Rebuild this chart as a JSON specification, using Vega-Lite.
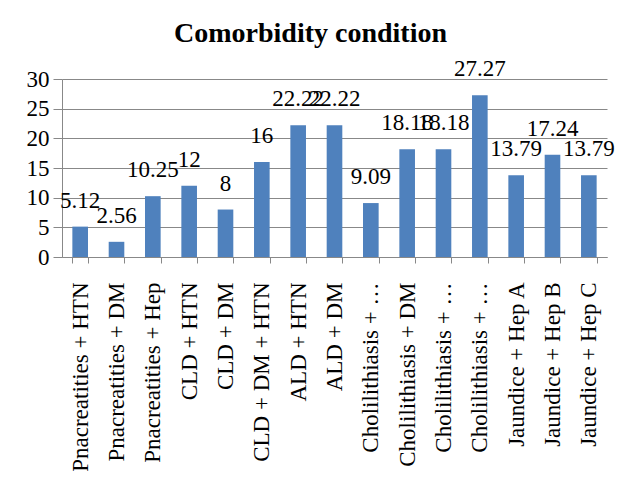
{
  "$schema": "https://vega.github.io/schema/vega-lite/v6.json",
  "width": 545,
  "height": 178,
  "autosize": {"type": "none"},
  "padding": {"left": 62, "top": 79, "right": 18, "bottom": 232},
  "background": "white",
  "title": {
    "text": "Comorbidity condition",
    "font": "'Liberation Serif', 'Times New Roman', serif",
    "fontSize": 28,
    "fontWeight": "bold",
    "color": "black",
    "anchor": "middle",
    "frame": "group",
    "dx": -24,
    "baseline": "alphabetic",
    "offset": -12
  },
  "data": {
    "values": [
      {"condition": "Pnacreatities + HTN", "value": 5.12},
      {"condition": "Pnacreatities + DM", "value": 2.56},
      {"condition": "Pnacreatities + Hep", "value": 10.25},
      {"condition": "CLD + HTN", "value": 12},
      {"condition": "CLD + DM", "value": 8},
      {"condition": "CLD + DM + HTN", "value": 16},
      {"condition": "ALD + HTN", "value": 22.22},
      {"condition": "ALD + DM", "value": 22.22},
      {"condition": "Cholilithiasis + HTN", "value": 9.09},
      {"condition": "Cholilithiasis + DM", "value": 18.18},
      {"condition": "Cholilithiasis + Hep", "value": 18.18},
      {"condition": "Cholilithiasis + CLD", "value": 27.27},
      {"condition": "Jaundice + Hep A", "value": 13.79},
      {"condition": "Jaundice + Hep B", "value": 17.24},
      {"condition": "Jaundice + Hep C", "value": 13.79}
    ]
  },
  "encoding": {
    "x": {
      "field": "condition",
      "type": "nominal",
      "sort": null,
      "scale": {"paddingInner": 0.57, "paddingOuter": 0.285},
      "axis": {
        "title": null,
        "labelAngle": -90,
        "labelAlign": "right",
        "labelBaseline": "middle",
        "labelFont": "'Liberation Serif', 'Times New Roman', serif",
        "labelFontSize": 23,
        "labelColor": "black",
        "labelPadding": 19,
        "labelLimit": 0,
        "labelExpr": "length(datum.label) > 19 ? slice(datum.label, 0, 16) + ' …' : datum.label",
        "tickBand": "extent",
        "tickSize": 6,
        "tickColor": "#888888",
        "domainColor": "#888888",
        "grid": false
      }
    },
    "y": {
      "field": "value",
      "type": "quantitative",
      "scale": {"domain": [0, 30], "nice": false},
      "axis": {
        "title": null,
        "values": [0, 5, 10, 15, 20, 25, 30],
        "labelFont": "'Liberation Serif', 'Times New Roman', serif",
        "labelFontSize": 23,
        "labelColor": "black",
        "labelPadding": 4,
        "tickSize": 9,
        "tickColor": "#888888",
        "domainColor": "#888888",
        "gridColor": "#888888",
        "gridOpacity": 1
      }
    }
  },
  "layer": [
    {"mark": {"type": "bar", "color": "#4F81BD"}},
    {
      "mark": {
        "type": "text",
        "font": "'Liberation Serif', 'Times New Roman', serif",
        "fontSize": 23,
        "color": "black",
        "baseline": "alphabetic",
        "dy": -19
      },
      "encoding": {"text": {"field": "value", "type": "quantitative"}}
    }
  ],
  "config": {"view": {"stroke": null}}
}
